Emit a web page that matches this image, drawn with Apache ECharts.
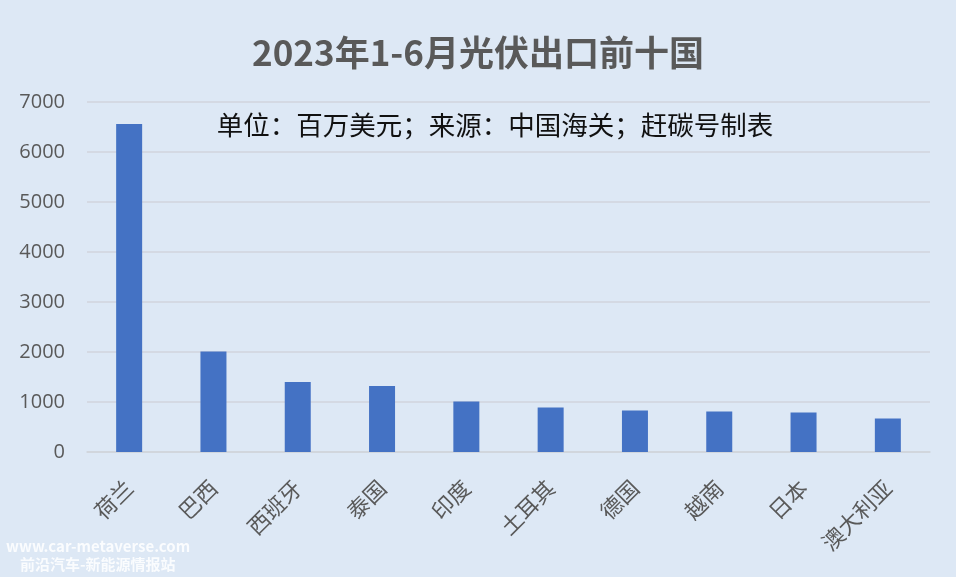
<!DOCTYPE html>
<html><head><meta charset="utf-8">
<script src="https://cdn.jsdelivr.net/npm/echarts@6/dist/echarts.min.js"></script>
<style>html,body{margin:0;padding:0;background:#dde8f5;}#c{width:956px;height:577px;}</style>
</head><body><div id="c"></div>
<script>
var categories = ['荷兰','巴西','西班牙','泰国','印度','土耳其','德国','越南','日本','澳大利亚'];
var values = [6560, 2010, 1400, 1320, 1010, 890, 830, 810, 790, 670];
var titleText = '2023年1-6月光伏出口前十国';
var subText = '单位：百万美元；来源：中国海关；赶碳号制表';

var chart = echarts.init(document.getElementById('c'));
var font = '"Noto Sans CJK SC","Noto Sans",sans-serif';
chart.setOption({
  backgroundColor: '#dde8f5',
  title: [{
    text: titleText, left: 'center', top: 30,
    textStyle: {fontSize: 35, fontWeight: 'bold', color: '#595959', fontFamily: font}
  }, {
    text: subText, left: 490, textAlign: 'center', top: 107,
    textStyle: {fontSize: 26.5, fontWeight: 'normal', color: '#111', fontFamily: font}
  }],
  grid: {left: 87, right: 26, top: 102, bottom: 125},
  xAxis: {
    type: 'category', data: categories,
    axisLine: {lineStyle: {color: '#d0d5dc', width: 1.5}},
    axisTick: {show: false},
    axisLabel: {rotate: 45, interval: 0, fontSize: 22, color: '#595959', fontFamily: font, margin: 32}
  },
  yAxis: {
    type: 'value', min: 0, max: 7000, interval: 1000,
    axisLine: {show: false}, axisTick: {show: false},
    splitLine: {lineStyle: {color: '#d0d5dc', width: 1.5}},
    axisLabel: {fontSize: 20, color: '#595959', fontFamily: '"Open Sans",sans-serif', margin: 22,
      formatter: function (v) { return String(v); }}
  },
  series: [{
    type: 'bar', data: values, barWidth: 26,
    itemStyle: {color: '#4472c4'}
  }],
  graphic: [{
    type: 'text', left: 6, top: 539,
    style: {text: 'www.car-metaverse.com', fontSize: 15, fontWeight: 'bold', fill: 'rgba(255,255,255,0.85)', fontFamily: font}
  }, {
    type: 'text', left: 20, top: 557,
    style: {text: '前沿汽车-新能源情报站', fontSize: 15, fontWeight: 'bold', fill: 'rgba(255,255,255,0.85)', fontFamily: font}
  }]
});
</script></body></html>
